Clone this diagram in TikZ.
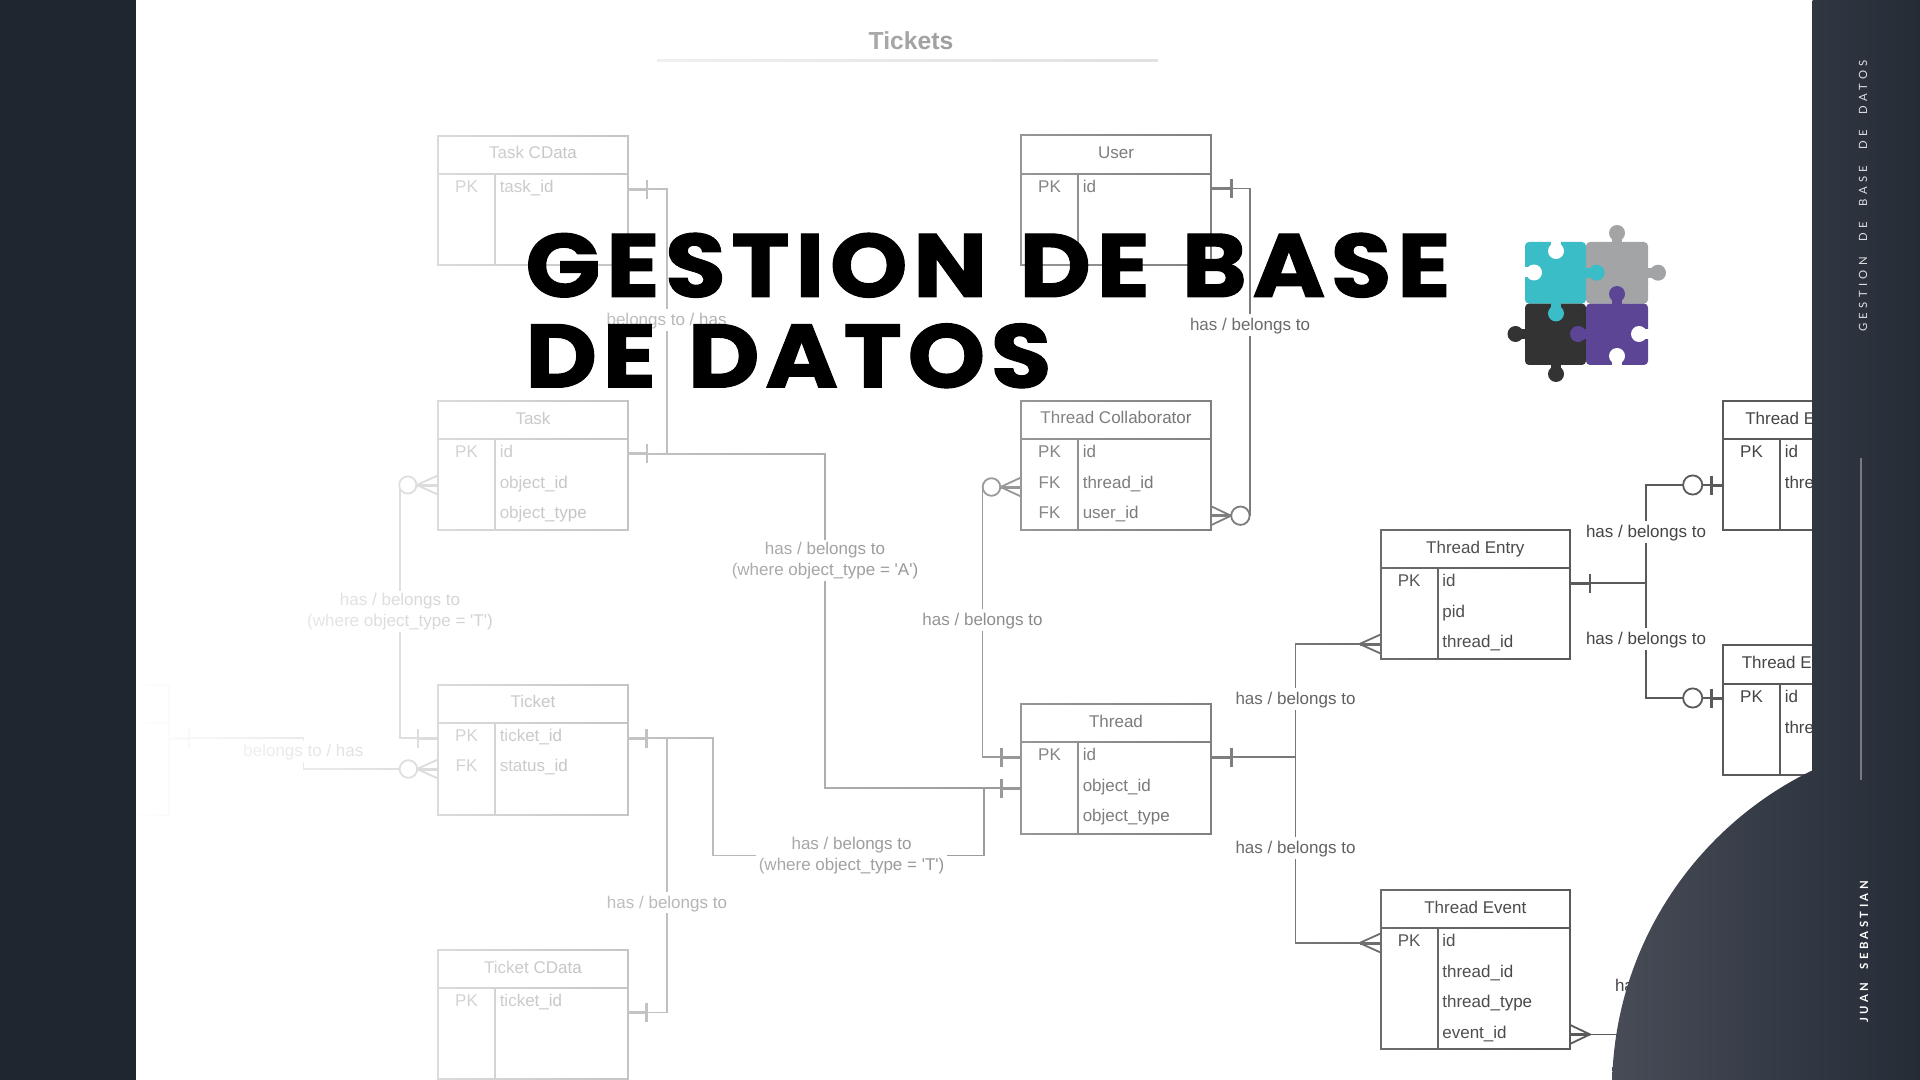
\documentclass[tikz,border=0pt]{standalone}
\usepackage{fontspec}
\usetikzlibrary{fadings,calc}
\setmainfont{Liberation Sans}
\newfontfamily\titlef[LetterSpace=6,WordSpace=1.2,FakeStretch=1.1,FakeBold=1.1]{Poppins}
\newfontfamily\sidef[LetterSpace=38,WordSpace=2.2]{Lato}
\newfontfamily\sideg[LetterSpace=30,WordSpace=2.2]{Lato}
\definecolor{panelL}{HTML}{1E2630}
\definecolor{blobA}{HTML}{474C57}
\definecolor{blobB}{HTML}{252C36}
\definecolor{ink}{HTML}{454545}
\definecolor{ln}{HTML}{5A5A5A}
\definecolor{pzT}{HTML}{3ABDC6}
\definecolor{pzG}{HTML}{A3A4A6}
\definecolor{pzK}{HTML}{333333}
\definecolor{pzP}{HTML}{5B4594}
\tikzfading[name=fadeR,left color=transparent!0,right color=transparent!100]
\tikzset{
  tblbox/.style={draw=ln,line width=2pt*0.75,fill=white,inner sep=0pt,outer sep=0pt},
  tblline/.style={draw=ln,line width=2pt*0.75},
  conn/.style={draw=ln,line width=1.8pt*0.75},
  tickm/.style={draw=ln,line width=2.8pt*0.75},
  stubm/.style={draw=ln,line width=3pt*0.75},
  ringm/.style={draw=ln,line width=1.8pt*0.75,fill=white},
  ttxt/.style={font=\fontsize{12.75pt}{14pt}\selectfont,text=ink,inner sep=0pt,text height=9pt,text depth=3pt},
  txt/.style={font=\fontsize{12.75pt}{14pt}\selectfont,text=ink,inner sep=0pt,text height=10.1pt,text depth=2pt},
  lbl/.style={txt,fill=white,align=center,inner xsep=1pt,inner ysep=2pt},
  lbltwo/.style={font=\fontsize{12.75pt}{15.3pt}\selectfont,text=ink,fill=white,align=center,inner sep=2pt,yshift=-1.1pt},
}
% name, left, width, top, header bottom, bottom, title, rows
\newcommand\tbl[8]{%
  \node[tblbox,anchor=north west,minimum width=#3*0.75pt,minimum height=(#6-#4)*0.75pt] (#1) at (#2,#4) {};
  \draw[tblline] (#2,#5) -- ({#2+#3},#5);
  \draw[tblline] ({#2+57},#5) -- ({#2+57},#6);
  \node[ttxt] (#1-title) at ({#2+#3/2},{(#4+#5)/2}) {#7};
  \foreach \k/\v [count=\i] in {#8} {
    \node[txt] (#1-k\i) at ({#2+28.5},{#5+13.5+(\i-1)*30.5}) {\k};
    \node[txt,anchor=west] (#1-v\i) at ({#2+61.5},{#5+13.5+(\i-1)*30.5}) {\v};
  }
}
% tick x, y, box-edge x
\newcommand\tickm[3]{\draw[tickm] (#1,{#2-9.5}) -- (#1,{#2+9.5}); \draw[stubm] (#3,#2) -- (#1,#2);}
% crow: tip x, y, box-edge x
\newcommand\crow[3]{\draw[conn] (#3,{#2-9.5}) -- (#1,#2) -- (#3,{#2+9.5}); \draw[stubm] (#1,#2) -- (#3,#2);}
\newcommand\ring[3]{\draw[ringm] (#1,#2) circle[radius=#3];}
% puzzle knob: colour, centre, neck corner, neck corner
\newcommand\knob[4]{\fill[#1] (#2) circle[radius=8]; \fill[#1] (#3) rectangle (#4);}
\newcommand\qq{\textquotesingle}
\begin{document}
\begin{tikzpicture}[x=0.75pt,y=-0.75pt]
\useasboundingbox (0,0) rectangle (1920,1080);
\fill[white] (0,0) rectangle (1920,1080);

% ---------- diagram title
\node[font=\fontsize{18.5pt}{20pt}\selectfont\bfseries,text=ln,inner sep=0pt] (ttl) at (911,41) {Tickets};
\coordinate (ttlL) at (657,60.5);
\coordinate (ttlR) at (1158,60.5);
\draw[draw=black!16,line width=2.6pt*0.75] (ttlL) -- (ttlR);

% ---------- tables
\tbl{taskcd}{438}{190}{136}{174}{265}{Task CData}{PK/task\_id}
\tbl{task}{438}{190}{401}{439}{530}{Task}{PK/id,/object\_id,/object\_type}
\tbl{ticket}{438}{190}{685}{722.5}{814.5}{Ticket}{PK/ticket\_id,FK/status\_id}
\tbl{ticketcd}{438}{190}{950}{988}{1079}{Ticket CData}{PK/ticket\_id}
\tbl{user}{1021}{190}{135.5}{173.6}{265}{User}{PK/id}
\tbl{collab}{1021}{190}{401}{438.6}{530.4}{Thread Collaborator}{PK/id,FK/thread\_id,FK/user\_id}
\tbl{thread}{1021}{190}{704}{742}{834}{Thread}{PK/id,/object\_id,/object\_type}
\tbl{entry}{1380.6}{189.5}{530}{568}{659}{Thread Entry}{PK/id,/pid,/thread\_id}
\tbl{event}{1380.6}{189.5}{890}{928}{1049}{Thread Event}{PK/id,/thread\_id,/thread\_type,/event\_id}
\tbl{emA}{1723}{120}{401}{438.7}{530}{}{PK/id,/thre}
\tbl{emB}{1723}{120}{645}{684}{775}{}{PK/id,/thre}
\node[ttxt,anchor=west] (emAt) at (1745,420) {Thread E};
\node[ttxt,anchor=west] (emBt) at (1741.5,664.5) {Thread E};
% clipped table at the far left
\node[tblbox,anchor=north west,minimum width=49*0.75pt,minimum height=129.5*0.75pt] (status) at (120,685) {};
\draw[tblline] (120,722.5) -- (169,722.5);

% ---------- connector corners
\coordinate (cA) at (666.6,453.6);
\coordinate (cB) at (825,453.6);
\coordinate (cC) at (825,788);
\coordinate (cD) at (667,738);
\coordinate (cE) at (712.7,738);
\coordinate (cF) at (712.7,855.4);
\coordinate (cG) at (983.6,855.4);
\coordinate (cH) at (982.5,487);
\coordinate (cI) at (1250,188.6);
\coordinate (cJ) at (1295.5,757);
\coordinate (cK) at (1295.5,644);
\coordinate (cL) at (1295.5,943);
\coordinate (cM) at (1646,583);
\coordinate (cN) at (399.6,485);
\coordinate (cO) at (303.4,738);
\coordinate (cP) at (303.4,769);
\coordinate (cQ) at (1700,1034.4);

\draw[conn] (taskcd.east |- 0,189.3) -- (666.6,189.3) -- (cA);
\draw[conn] (task.east |- cA) -- (cA) -- (cB) -- (cC) -- (thread.west |- cC);
\draw[conn] (ticket.east |- cD) -- (cD) -- (cE) -- (cF) -- (cG) -- (983.6,788);
\draw[conn] (ticketcd.east |- 0,1012.4) -- (667,1012.4) -- (cD);
\draw[conn] (cN) -- (399.6,738) -- (ticket.west |- cD);
\draw[conn] (cH) -- (982.5,757) -- (thread.west |- 0,757);
\draw[conn] (user.east |- cI) -- (cI) -- (1250,515.7);
\draw[conn] (thread.east |- cJ) -- (cJ);
\draw[conn] (entry.west |- cK) -- (cK) -- (cL) -- (event.west |- cL);
\draw[conn] (entry.east |- cM) -- (cM);
\draw[conn] (emA.west |- 0,485) -- (1646,485) -- (1646,698) -- (emB.west |- 0,698);
\draw[conn] (status.east |- cO) -- (cO) -- (cP) -- (ticket.west |- cP);
\draw[conn] (event.east |- cQ) -- (cQ);

% ---------- line ends
\tickm{647}{189.3}{628}\tickm{647}{453.6}{628}\tickm{646.7}{738}{628}\tickm{646.7}{1012.4}{628}
\tickm{418}{738}{438}\tickm{189}{738}{169}
\tickm{1001.4}{757}{1021}\tickm{1001.4}{788}{1021}\tickm{1231.8}{188.6}{1211}\tickm{1231.5}{757}{1211}
\tickm{1590}{583}{1570}\tickm{1711.7}{485}{1723}\tickm{1711.7}{698}{1723}
\crow{416.6}{485}{438}\ring{407.8}{485}{8.6}
\crow{417}{769}{438}\ring{408.4}{769}{8.8}
\crow{1000.5}{487}{1021}\ring{991.5}{487}{8.8}
\crow{1231}{515.7}{1211}\ring{1240.4}{515.7}{9.2}
\crow{1359.5}{644}{1380.6}\crow{1359.5}{943}{1380.6}
\crow{1590}{1034.4}{1570}
\ring{1692.7}{485}{9.6}\ring{1692.7}{698}{9.6}

% ---------- connector labels
\node[lbl] (l1) at (666.6,320) {belongs to / has};
\node[lbl] (l2) at (1250,325) {has / belongs to};
\node[lbltwo] (l3) at (825,559) {has / belongs to\\(where object\_type = \qq A\qq)};
\node[lbltwo] (l4) at (400,610) {has / belongs to\\(where object\_type = \qq T\qq)};
\node[lbl] (l5) at (982.5,620) {has / belongs to};
\node[lbl] (l6) at (303.4,751.4) {belongs to / has};
\node[lbltwo] (l7) at (851.6,854) {has / belongs to\\(where object\_type = \qq T\qq)};
\node[lbl] (l8) at (667,902.6) {has / belongs to};
\node[lbl] (l9) at (1295.5,699) {has / belongs to};
\node[lbl] (l10) at (1295.5,848) {has / belongs to};
\node[lbl] (l11) at (1646,532) {has / belongs to};
\node[lbl] (l12) at (1646,639) {has / belongs to};
\node[lbl] (l13) at (1675,986) {has / belongs to};

% ---------- fade of the diagram towards the left
\fill[white,path fading=fadeR] (136,0) rectangle (1540,1080);

% ---------- headline
\node[font=\fontsize{67.5pt}{70pt}\titlef\bfseries,text=black,anchor=base west,inner sep=0pt] (h1) at (525,297) {GESTION DE BASE};
\node[font=\fontsize{67.5pt}{70pt}\titlef\bfseries,text=black,anchor=base west,inner sep=0pt] (h2) at (525,387.5) {DE DATOS};

% ---------- puzzle
\fill[pzT,rounded corners=3pt] (1525,242) rectangle (1586,303.6);
\fill[pzG,rounded corners=3pt] (1586,242) rectangle (1648,303.6);
\fill[pzK,rounded corners=3pt] (1525,303.6) rectangle (1586,365);
\fill[pzP,rounded corners=3pt] (1586,303.6) rectangle (1648,365);
\knob{pzG}{1617,233}{1612,236}{1622,243}
\knob{pzG}{1658,272.7}{1647,268}{1654,278}
\knob{pzT}{1596.7,272.7}{1585,268}{1592,278}
\knob{pzT}{1556,313.4}{1551,302}{1561,309}
\knob{pzP}{1617,294}{1612,298}{1622,305}
\knob{pzP}{1578,334}{1580,329}{1587,339}
\knob{pzK}{1515.5,334}{1519,329}{1526,339}
\knob{pzK}{1556,374}{1551,364}{1561,370}
\knob{white}{1556,251}{1551,241}{1561,247}
\knob{white}{1534,272.5}{1524,267.5}{1530,277.5}
\knob{white}{1639,334}{1643,329}{1649,339}
\knob{white}{1617,356}{1612,360}{1622,366}

% ---------- dark panels
\fill[panelL] (0,0) rectangle (136,1080);
\begin{scope}
  \clip (1812.5,0) rectangle (1920,1080);
  \shade[left color=blobA,right color=blobB] (1612,0) rectangle (1920,1080);
\end{scope}
\begin{scope}
  \clip (1967,1090) circle[radius=355];
  \shade[left color=blobA,right color=blobB] (1612,0) rectangle (1920,1080);
\end{scope}
\coordinate (vT) at (1861,458);
\coordinate (vB) at (1861,780);
\draw[draw=white!38!blobB,line width=1.5pt*0.75] (vT) -- (vB);
\node[font=\fontsize{8.5pt}{10pt}\sidef,text=white!85!blobB,rotate=90,inner sep=0pt] (s1) at (1863,196) {GESTION DE BASE DE DATOS};
\node[font=\fontsize{8.5pt}{10pt}\sideg\bfseries,text=white,rotate=90,inner sep=0pt] (s2) at (1864,952) {JUAN SEBASTIAN};
\end{tikzpicture}
\end{document}
